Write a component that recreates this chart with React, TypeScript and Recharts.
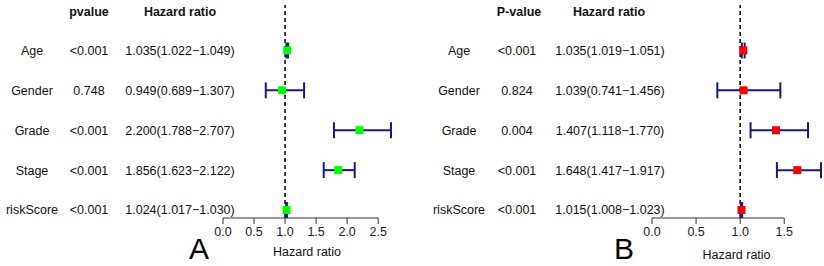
import React from 'react'
import {
  ScatterChart,
  Scatter,
  XAxis,
  YAxis,
  ErrorBar,
  ReferenceLine,
} from 'recharts'

const ROWS = ['Age', 'Gender', 'Grade', 'Stage', 'riskScore']

const A_PVALUE = ['<0.001', '0.748', '<0.001', '<0.001', '<0.001']
const A_HR = [1.035, 0.949, 2.2, 1.856, 1.024]
const A_LOW = [1.022, 0.689, 1.788, 1.623, 1.017]
const A_HIGH = [1.049, 1.307, 2.707, 2.122, 1.03]
const A_TICKS = [0, 0.5, 1, 1.5, 2, 2.5]

const B_PVALUE = ['<0.001', '0.824', '0.004', '<0.001', '<0.001']
const B_HR = [1.035, 1.039, 1.407, 1.648, 1.015]
const B_LOW = [1.019, 0.741, 1.118, 1.417, 1.008]
const B_HIGH = [1.051, 1.456, 1.77, 1.917, 1.023]
const B_TICKS = [0, 0.5, 1, 1.5]

const FONT = '"Liberation Sans", Arial, sans-serif'
const W = 412
const H = 266

interface PanelCfg {
  letter: string
  pHeader: string
  pvalue: string[]
  hr: number[]
  low: number[]
  high: number[]
  ticks: number[]
  color: string
  yWidth: number
  right: number
  labelX: number
  pX: number
  hrX: number
  pHeadX: number
  hrHeadX: number
  letterX: number
  axisLabelOffset: number
}

const fmt = (v: number) => v.toFixed(3)

function RowTick(props: any) {
  const { y, payload, cfg } = props
  const i = ROWS.length - payload.value
  if (i < 0 || i >= ROWS.length) return null
  const c: PanelCfg = cfg
  const common = { fontFamily: FONT, fontSize: 12.5, fill: '#111', dy: '0.35em', textAnchor: 'middle' as const }
  return (
    <g>
      <text x={c.labelX} y={y} {...common}>{ROWS[i]}</text>
      <text x={c.pX} y={y} {...common}>{c.pvalue[i]}</text>
      <text x={c.hrX} y={y} {...common}>
        {`${fmt(c.hr[i])}(${fmt(c.low[i])}\u2212${fmt(c.high[i])})`}
      </text>
    </g>
  )
}

function Panel({ cfg }: { cfg: PanelCfg }) {
  const data = ROWS.map((name, i) => ({
    name,
    y: ROWS.length - i,
    hr: cfg.hr[i],
    err: [cfg.hr[i] - cfg.low[i], cfg.high[i] - cfg.hr[i]],
  }))
  const xMax = Math.max(...cfg.high)
  const lastTick = cfg.ticks[cfg.ticks.length - 1]

  return (
    <div style={{ position: 'relative', width: W, height: H }}>
      <ScatterChart
        width={W}
        height={H}
        margin={{ top: 5, right: cfg.right, bottom: 0, left: 0 }}
        style={{ fontFamily: FONT }}
      >
        <XAxis
          type="number"
          dataKey="hr"
          domain={[0, xMax]}
          ticks={cfg.ticks}
          tickFormatter={(v: number) => v.toFixed(1)}
          axisLine={false}
          tickLine={{ stroke: '#333' }}
          tickSize={6}
          tickMargin={3}
          height={48}
          interval={0}
          tick={{ fill: '#222', fontSize: 12.5, fontFamily: FONT }}
          label={{
            value: 'Hazard ratio',
            position: 'insideBottom',
            offset: cfg.axisLabelOffset,
            fill: '#111',
            fontSize: 12.5,
            fontFamily: FONT,
          }}
        />
        <YAxis
          type="number"
          dataKey="y"
          domain={[0.8, 6.14]}
          ticks={[1, 2, 3, 4, 5]}
          interval={0}
          axisLine={false}
          tickLine={false}
          width={cfg.yWidth}
          tick={(p: any) => <RowTick {...p} cfg={cfg} />}
        />
        <ReferenceLine x={1} stroke="#000" strokeWidth={1.5} strokeDasharray="4 3" />
        <ReferenceLine
          segment={[
            { x: 0, y: 0.8 },
            { x: lastTick, y: 0.8 },
          ]}
          stroke="#333"
          strokeWidth={1}
          ifOverflow="visible"
        />
        <Scatter
          data={data}
          isAnimationActive={false}
          shape={(p: any) => (
            <rect x={p.cx - 4} y={p.cy - 4} width={8} height={8} fill={cfg.color} />
          )}
        >
          <ErrorBar
            dataKey="err"
            direction="x"
            width={8}
            stroke="#1a1a78"
            strokeWidth={2}
            isAnimationActive={false}
          />
        </Scatter>
      </ScatterChart>
      <svg
        width={W}
        height={H}
        style={{ position: 'absolute', left: 0, top: 0, pointerEvents: 'none' }}
      >
        <text x={cfg.pHeadX} y={12} dy="0.35em" textAnchor="middle" fontFamily={FONT} fontSize={12.5} fontWeight="bold" fill="#111">
          {cfg.pHeader}
        </text>
        <text x={cfg.hrHeadX} y={12} dy="0.35em" textAnchor="middle" fontFamily={FONT} fontSize={12.5} fontWeight="bold" fill="#111">
          Hazard ratio
        </text>
        <text x={cfg.letterX} y={259} textAnchor="middle" fontFamily={FONT} fontSize={30} fill="#000">
          {cfg.letter}
        </text>
      </svg>
    </div>
  )
}

const PANEL_A: PanelCfg = {
  letter: 'A',
  pHeader: 'pvalue',
  pvalue: A_PVALUE,
  hr: A_HR,
  low: A_LOW,
  high: A_HIGH,
  ticks: A_TICKS,
  color: '#00ff00',
  yWidth: 223,
  right: 21,
  labelX: 32,
  pX: 89,
  hrX: 180,
  pHeadX: 89,
  hrHeadX: 180,
  letterX: 199,
  axisLabelOffset: 10,
}

const PANEL_B: PanelCfg = {
  letter: 'B',
  pHeader: 'P-value',
  pvalue: B_PVALUE,
  hr: B_HR,
  low: B_LOW,
  high: B_HIGH,
  ticks: B_TICKS,
  color: '#ff0000',
  yWidth: 240,
  right: 3,
  labelX: 47,
  pX: 105,
  hrX: 198,
  pHeadX: 107,
  hrHeadX: 197,
  letterX: 212,
  axisLabelOffset: 7,
}

export default function App() {
  return (
    <div
      style={{
        position: 'absolute',
        left: 0,
        top: 0,
        width: 824,
        height: 266,
        display: 'flex',
        background: '#fff',
      }}
    >
      <Panel cfg={PANEL_A} />
      <Panel cfg={PANEL_B} />
    </div>
  )
}
